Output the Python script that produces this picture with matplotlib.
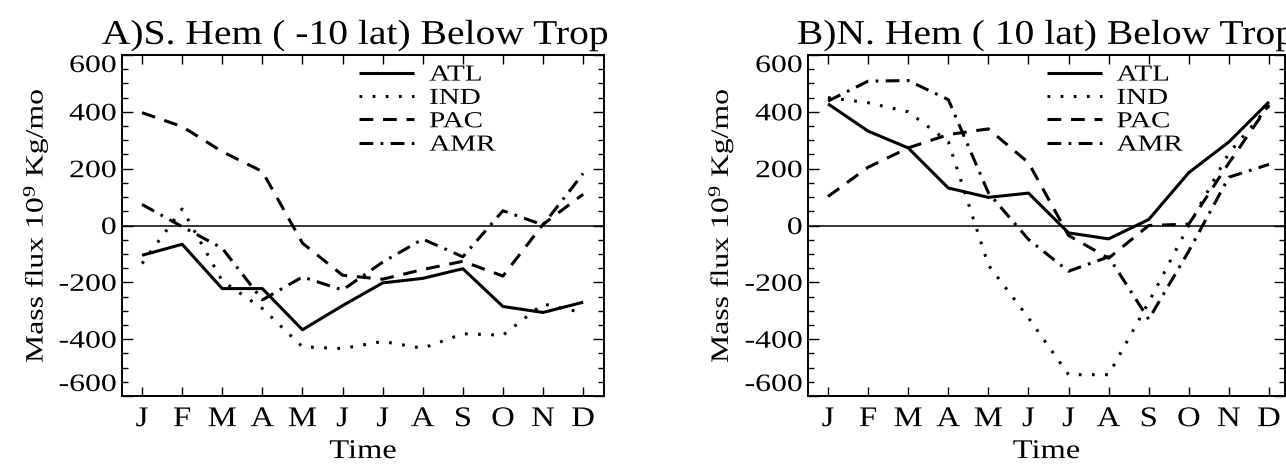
import matplotlib
matplotlib.use("Agg")
import matplotlib.pyplot as plt
from matplotlib.ticker import MultipleLocator, FixedLocator
from matplotlib.patheffects import AbstractPathEffect
from matplotlib.transforms import Affine2D

plt.rcParams['font.family'] = ['Liberation Serif', 'DejaVu Serif']
plt.rcParams['mathtext.fontset'] = 'custom'
plt.rcParams['mathtext.rm'] = 'Liberation Serif'
plt.rcParams['mathtext.it'] = 'Liberation Serif:italic'
plt.rcParams['axes.unicode_minus'] = False

months = ['J', 'F', 'M', 'A', 'M', 'J', 'J', 'A', 'S', 'O', 'N', 'D']
series_names = ['ATL', 'IND', 'PAC', 'AMR']

# Panel A: S. Hem (-10 lat)
atl_s = [-105, -66, -222, -222, -367, -282, -202, -186, -152, -285, -306, -270]
ind_s = [-134, 58, -195, -292, -427, -433, -408, -432, -381, -386, -276, -307]
pac_s = [397, 348, 260, 190, -62, -175, -189, -155, -126, -178, 4, 110]
amr_s = [74, -4, -80, -262, -181, -227, -129, -48, -110, 52, 2, 183]

# Panel B: N. Hem (10 lat)
atl_n = [428, 332, 273, 132, 99, 114, -26, -47, 21, 186, 294, 435]
ind_n = [450, 432, 400, 295, -139, -325, -525, -525, -270, 0, 255, 420]
pac_n = [102, 205, 273, 320, 340, 221, -35, -115, 0, 5, 220, 425]
amr_n = [438, 508, 510, 443, 115, -49, -161, -110, -330, -90, 170, 215]

titles = ['A)S. Hem ( -10 lat) Below Trop', 'B)N. Hem ( 10 lat) Below Trop']
ylabel = 'Mass flux 10$^{9}$ Kg/mo'
xlabel = 'Time'
yticks = [-600, -400, -200, 0, 200, 400, 600]

styles = ['-', (0, (0.9, 3.4)), (0, (4.5, 3.2)), (0, (4.5, 2.4, 0.9, 2.4))]


class Stretch(AbstractPathEffect):
    """Widen glyphs along the text direction (imitates the wide PS font)."""

    def __init__(self, s=1.27, anchor='center', vertical=False):
        super().__init__()
        self.s = s
        self.anchor = anchor
        self.vertical = vertical

    def draw_path(self, renderer, gc, tpath, affine, rgbFace=None):
        ext = tpath.transformed(affine).get_extents()
        if self.vertical:
            c = (ext.y0 + ext.y1) / 2
            t = Affine2D().translate(0, -c).scale(1, self.s).translate(0, c)
        else:
            if self.anchor == 'left':
                c = ext.x0
            elif self.anchor == 'right':
                c = ext.x1
            else:
                c = (ext.x0 + ext.x1) / 2
            t = Affine2D().translate(-c, 0).scale(self.s, 1).translate(c, 0)
        renderer.draw_path(gc, tpath, affine + t, rgbFace)


W, H = 1286, 468
fig = plt.figure(figsize=(W / 100, H / 100), dpi=100)

panels = [
    dict(rect=[122 / W, 1 - 396 / H, 482 / W, 341 / H], xlim=(-0.5, 11.52),
         data=[atl_s, ind_s, pac_s, amr_s], leg_x=0.492, ylab_x=-0.150,
         title_x=0.485),
    dict(rect=[808 / W, 1 - 396 / H, 477 / W, 341 / H], xlim=(-0.5, 11.4),
         data=[atl_n, ind_n, pac_n, amr_n], leg_x=0.50, ylab_x=-0.153,
         title_x=0.5),
]

axes = []
for i, p in enumerate(panels):
    ax = fig.add_axes(p['rect'])
    axes.append(ax)
    x = list(range(len(months)))
    ax.axhline(0, color='black', lw=1.1, zorder=1)
    for name, vals, ls in zip(series_names, p['data'], styles):
        ax.plot(x, vals, color='black', lw=2.2, linestyle=ls, label=name,
                solid_capstyle='butt', dash_capstyle='butt', zorder=2)
    ax.set_xlim(*p['xlim'])
    ax.set_ylim(-600, 600)
    ax.set_xticks(x)
    ax.set_xticklabels(months, fontsize=20.5)
    ax.yaxis.set_major_locator(FixedLocator(yticks))
    ax.set_yticklabels([str(v) for v in yticks], fontsize=18)
    ax.yaxis.set_minor_locator(MultipleLocator(50))
    ax.tick_params(axis='x', which='major', direction='in', length=6.5, width=1.0,
                   top=True, bottom=True, pad=8)
    ax.tick_params(axis='y', which='major', direction='in', length=8, width=1.0,
                   left=True, right=True, pad=4)
    ax.tick_params(axis='y', which='minor', direction='in', length=4.5, width=1.0,
                   left=True, right=True)
    ax.tick_params(axis='x', which='minor', bottom=False, top=False)
    labs = ax.get_yticklabels()
    labs[0].set_va('bottom')
    labs[-1].set_va('top')
    for s in ax.spines.values():
        s.set_linewidth(1.4)
    t = ax.set_title(titles[i], fontsize=25, pad=8, x=p['title_x'])
    t.set_path_effects([Stretch(1.14, 'center')])
    yl = ax.set_ylabel(ylabel, fontsize=18)
    ax.yaxis.set_label_coords(p['ylab_x'], 0.5)
    yl.set_path_effects([Stretch(1.27, vertical=True)])
    xl = ax.set_xlabel(xlabel, fontsize=19.5, labelpad=5)
    xl.set_path_effects([Stretch(1.2, 'center')])
    leg = ax.legend(loc='upper left', bbox_to_anchor=(p['leg_x'], 0.972),
                    frameon=False, fontsize=16.5, handlelength=2.4,
                    handletextpad=0.66, labelspacing=0.1, borderpad=0,
                    borderaxespad=0)
    for txt in leg.get_texts():
        txt.set_path_effects([Stretch(1.27, 'left')])

fig.canvas.draw()
for ax in axes:
    for tk in ax.xaxis.get_major_ticks():
        tk.label1.set_path_effects([Stretch(1.15, 'center')])
    for tk in ax.yaxis.get_major_ticks():
        tk.label1.set_path_effects([Stretch(1.27, 'right')])

fig.savefig('out.png', dpi=100)
